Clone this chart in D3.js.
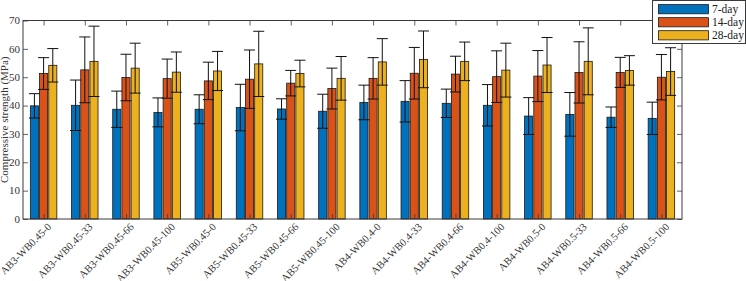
<!DOCTYPE html>
<html>
<head>
<meta charset="utf-8">
<script src="https://cdn.jsdelivr.net/npm/d3@7"></script>
<style>
  body { margin: 0; background: #fff; }
  text { font-family: "Liberation Serif", "Times New Roman", serif; }
</style>
</head>
<body>
<div id="chart"></div>
<script>
const mixes = ["AB3-WB0.45-0", "AB3-WB0.45-33", "AB3-WB0.45-66", "AB3-WB0.45-100",
  "AB5-WB0.45-0", "AB5-WB0.45-33", "AB5-WB0.45-66", "AB5-WB0.45-100",
  "AB4-WB0.4-0", "AB4-WB0.4-33", "AB4-WB0.4-66", "AB4-WB0.4-100",
  "AB4-WB0.5-0", "AB4-WB0.5-33", "AB4-WB0.5-66", "AB4-WB0.5-100"];
const ages = ["7-day", "14-day", "28-day"];

// mean strength (MPa)
const day7 = [39.9, 40.1, 38.7, 37.6, 38.7, 39.3, 38.8, 38.0, 41.1, 41.5, 40.8, 40.1, 36.3, 36.9, 35.9, 35.5];
const day14 = [51.3, 52.6, 49.9, 49.5, 48.7, 49.3, 47.9, 46.0, 49.6, 51.4, 51.1, 50.2, 50.4, 51.7, 51.7, 50.0];
const day28 = [54.2, 55.6, 53.2, 51.8, 52.2, 54.7, 51.3, 49.6, 55.4, 56.3, 55.6, 52.5, 54.3, 55.6, 52.4, 52.0];
// standard deviation (MPa)
const sd7 = [4.3, 8.9, 6.4, 5.1, 5.1, 8.2, 3.6, 6.0, 6.1, 7.3, 5.0, 7.3, 6.5, 7.7, 3.6, 5.7];
const sd14 = [5.6, 11.6, 8.2, 6.9, 6.6, 10.3, 4.5, 7.2, 7.3, 9.1, 6.3, 9.1, 9.0, 10.8, 5.3, 8.0];
const sd28 = [5.9, 12.4, 8.8, 7.1, 6.9, 11.5, 4.7, 7.7, 8.2, 10.0, 6.8, 9.5, 9.7, 11.8, 5.2, 8.4];
const yTicks = [0, 10, 20, 30, 40, 50, 60, 70];

const colors = ["#0072BD", "#D95319", "#EDB120"];
const means = [day7, day14, day28];
const sds = [sd7, sd14, sd28];

const W = 746, H = 281;
const margin = { left: 23, right: 682, top: 20.5, bottom: 219 };
const axisColor = "#3a3a3a";

const svg = d3.select("#chart").append("svg")
  .attr("width", W).attr("height", H);

const x0 = d3.scaleBand().domain(mixes).range([margin.left, margin.right]).padding(0);
const x1 = d3.scaleBand().domain(ages)
  .range([-x0.bandwidth() * 0.335, x0.bandwidth() * 0.335])
  .paddingInner(0.12).paddingOuter(0.06);
const y = d3.scaleLinear().domain([0, 70]).range([margin.bottom, margin.top]);

// bars
const rows = [];
mixes.forEach((m, i) => {
  ages.forEach((a, k) => {
    rows.push({ mix: m, age: a, k: k, v: means[k][i], e: sds[k][i] });
  });
});

const barG = svg.append("g");
barG.selectAll("rect").data(rows).enter().append("rect")
  .attr("x", d => x0(d.mix) + x0.bandwidth() / 2 + x1(d.age))
  .attr("y", d => y(d.v))
  .attr("width", x1.bandwidth())
  .attr("height", d => y(0) - y(d.v))
  .attr("fill", d => colors[d.k])
  .attr("stroke", "#1a1a1a")
  .attr("stroke-width", 0.8);

// error bars
const cx = d => x0(d.mix) + x0.bandwidth() / 2 + x1(d.age) + x1.bandwidth() / 2;
const capW = 5.5;
const errG = svg.append("g").attr("stroke", "#111").attr("stroke-width", 1);
errG.selectAll(".stem").data(rows).enter().append("line")
  .attr("x1", cx).attr("x2", cx)
  .attr("y1", d => y(d.v - d.e)).attr("y2", d => y(d.v + d.e));
errG.selectAll(".capT").data(rows).enter().append("line")
  .attr("x1", d => cx(d) - capW).attr("x2", d => cx(d) + capW)
  .attr("y1", d => y(d.v + d.e)).attr("y2", d => y(d.v + d.e));
errG.selectAll(".capB").data(rows).enter().append("line")
  .attr("x1", d => cx(d) - capW).attr("x2", d => cx(d) + capW)
  .attr("y1", d => y(d.v - d.e)).attr("y2", d => y(d.v - d.e));

// axes (box with inward ticks)
const xCenter = d3.scalePoint().domain(mixes)
  .range([x0(mixes[0]) + x0.bandwidth() / 2, x0(mixes[15]) + x0.bandwidth() / 2]);

const yAxisL = svg.append("g").attr("transform", `translate(${margin.left},0)`)
  .call(d3.axisRight(y).tickValues(yTicks).tickSize(5).tickFormat(""));
const yAxisR = svg.append("g").attr("transform", `translate(${margin.right},0)`)
  .call(d3.axisLeft(y).tickValues(yTicks).tickSize(5).tickFormat(""));
const xAxisT = svg.append("g").attr("transform", `translate(0,${margin.top})`)
  .call(d3.axisBottom(xCenter).tickSize(5).tickFormat(""));
const xAxisB = svg.append("g").attr("transform", `translate(0,${margin.bottom})`)
  .call(d3.axisTop(xCenter).tickSize(5).tickFormat(""));
[yAxisL, yAxisR, xAxisT, xAxisB].forEach(g => {
  g.selectAll(".domain").remove();
  g.selectAll("line").attr("stroke", axisColor).attr("stroke-width", 0.8);
});

svg.append("rect")
  .attr("x", margin.left).attr("y", margin.top)
  .attr("width", margin.right - margin.left).attr("height", margin.bottom - margin.top)
  .attr("fill", "none").attr("stroke", axisColor).attr("stroke-width", 1);

// y tick labels
svg.append("g").selectAll("text").data(yTicks).enter().append("text")
  .attr("x", margin.left - 3).attr("y", d => y(d))
  .attr("dy", "0.35em").attr("text-anchor", "end")
  .attr("font-size", 11).attr("fill", "#333")
  .text(d => d);

// x tick labels (rotated)
svg.append("g").selectAll("text").data(mixes).enter().append("text")
  .attr("transform", d => `translate(${xCenter(d) + 4},${margin.bottom + 4}) rotate(-45)`)
  .attr("text-anchor", "end").attr("dy", "0.6em")
  .attr("font-size", 10.5).attr("fill", "#333")
  .text(d => d);

// y label
svg.append("text")
  .attr("transform", `translate(8,${(margin.top + margin.bottom) / 2}) rotate(-90)`)
  .attr("text-anchor", "middle")
  .attr("font-size", 11).attr("fill", "#333")
  .text("Compressive strength (MPa)");

// legend
const lg = svg.append("g");
lg.append("rect")
  .attr("x", 652.5).attr("y", 0.5).attr("width", 93).attr("height", 43)
  .attr("fill", "#fff").attr("stroke", axisColor).attr("stroke-width", 1);
const legendY = d3.scalePoint().domain(ages).range([9.2, 35.3]);
ages.forEach((a, k) => {
  lg.append("rect")
    .attr("x", 658.5).attr("y", legendY(a) - 4.6)
    .attr("width", 50).attr("height", 9.2)
    .attr("fill", colors[k]).attr("stroke", "#1a1a1a").attr("stroke-width", 0.8);
  lg.append("text")
    .attr("x", 712).attr("y", legendY(a)).attr("dy", "0.35em")
    .attr("font-size", 11.5).attr("fill", "#222")
    .text(a);
});
</script>
</body>
</html>
